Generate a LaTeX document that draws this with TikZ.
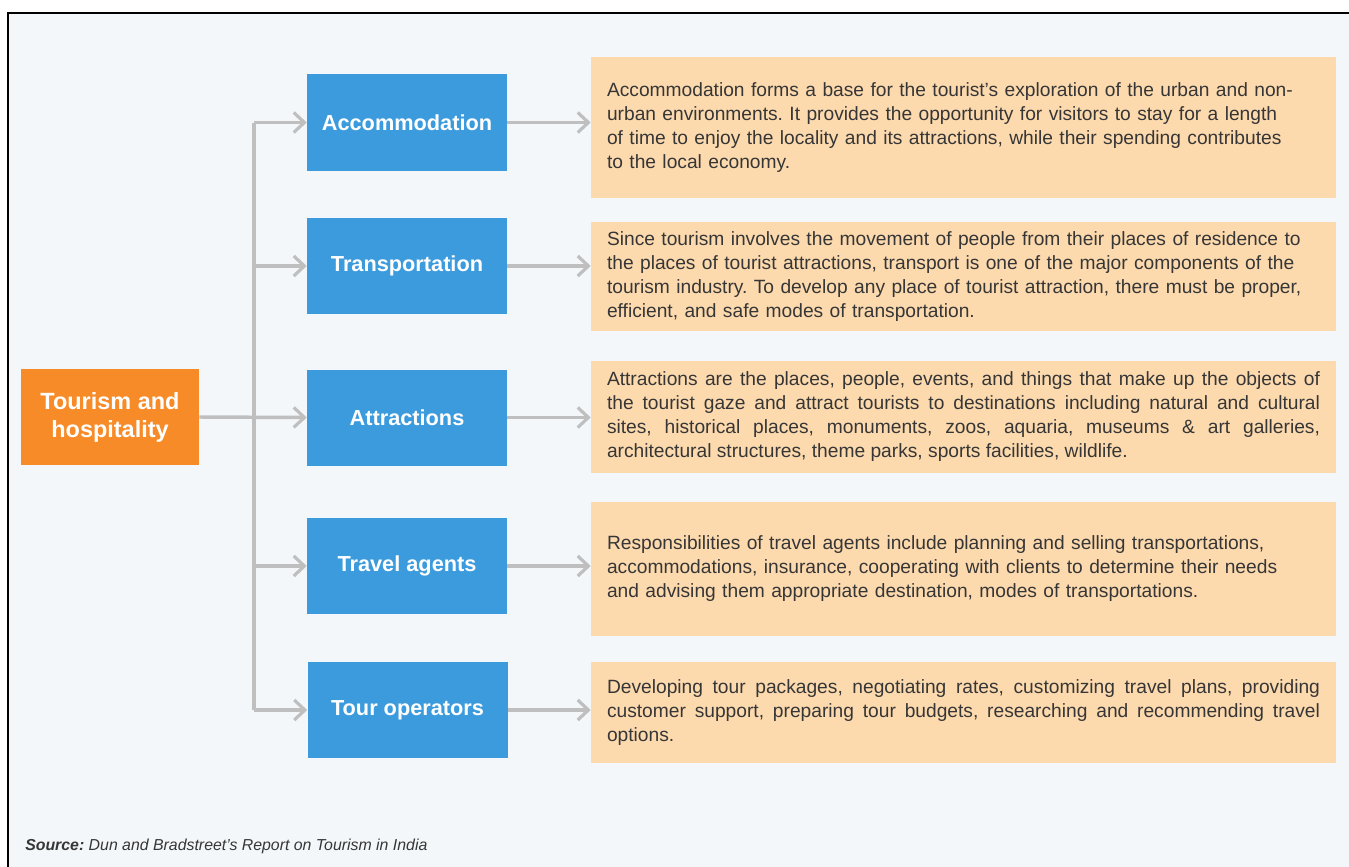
\documentclass[tikz,border=0pt]{standalone}
\usepackage{fontspec}
\setmainfont{Liberation Sans}
\usetikzlibrary{arrows.meta}
\definecolor{bgc}{HTML}{F3F7F9}
\definecolor{bluec}{HTML}{3C9BDD}
\definecolor{orangec}{HTML}{F78B28}
\definecolor{peachc}{HTML}{FDDAAE}
\definecolor{linec}{HTML}{BFBFBF}
\definecolor{txtc}{HTML}{363636}
\frenchspacing
\tikzset{
  bluebox/.style={fill=bluec, text=white, inner sep=0pt, minimum width=150pt, minimum height=72pt,
    font=\fontsize{16.3pt}{19pt}\selectfont\bfseries},
  orangebox/.style={fill=orangec, text=white, inner sep=0pt, minimum width=133.5pt, minimum height=72pt, align=center,
    font=\fontsize{17.6pt}{21pt}\selectfont\bfseries},
  descbox/.style={fill=peachc, text=txtc, inner xsep=12pt, inner ysep=0pt, minimum width=558.75pt,
    text width=534.75pt, font=\fontsize{14.4pt}{18pt}\selectfont},
  conn/.style={draw=linec, line width=2.6pt, -{Straight Barb[length=8pt,width=15pt,line width=2.4pt]}},
  trunk/.style={draw=linec, line width=2.6pt},
}
\begin{document}
\begin{tikzpicture}[x=0.75pt,y=-0.75pt]
\useasboundingbox (0,0) rectangle (1349,867);
\fill[white] (0,0) rectangle (1349,867);
\fill[bgc] (8,13) rectangle (1349,867);
\draw[black, line width=1.6pt] (8,867) -- (8,13) -- (1349,13);

\node[orangebox] (hosp) at (110,417) {Tourism and\\hospitality};

\node[bluebox] (acc) at (407,122.5) {Accommodation};
\node[bluebox] (tra) at (407,266) {Transportation};
\node[bluebox] (att) at (407,417.5) {Attractions};
\node[bluebox] (tag) at (407,566) {Travel agents};
\node[bluebox] (top) at (407.5,710) {Tour operators};

\node[descbox, align=left, minimum height=105.75pt] (d1) at (963.5,127.5) {Accommodation forms a base for the tourist’s exploration of the urban and non-\\urban environments. It provides the opportunity for visitors to stay for a length\\of time to enjoy the locality and its attractions, while their spending contributes\\to the local economy.};
\node[descbox, align=left, minimum height=81.75pt] (d2) at (963.5,276.5) {Since tourism involves the movement of people from their places of residence to\\the places of tourist attractions, transport is one of the major components of the\\tourism industry. To develop any place of tourist attraction, there must be proper,\\efficient, and safe modes of transportation.};
\node[descbox, align=justify, minimum height=84pt] (d3) at (963.5,417) {Attractions are the places, people, events, and things that make up the objects of\linebreak the tourist gaze and attract tourists to destinations including natural and cultural\linebreak sites, historical places, monuments, zoos, aquaria, museums \& art galleries,\linebreak architectural structures, theme parks, sports facilities, wildlife.};
\node[descbox, align=left, minimum height=100.5pt] (d4) at (963.5,569) {Responsibilities of travel agents include planning and selling transportations,\\accommodations, insurance, cooperating with clients to determine their needs\\and advising them appropriate destination, modes of transportations.};
\node[descbox, align=justify, minimum height=75.75pt] (d5) at (963.5,712.5) {Developing tour packages, negotiating rates, customizing travel plans, providing\linebreak customer support, preparing tour budgets, researching and recommending travel\linebreak options.};

\coordinate (tk) at (254,417);
\draw[trunk] (tk |- acc.west) -- (tk |- top.west);
\draw[conn] (hosp.east) -- (att.west);
\draw[conn] (tk |- acc.west) -- (acc.west);
\draw[conn] (tk |- tra.west) -- (tra.west);
\draw[conn] (tk |- tag.west) -- (tag.west);
\draw[conn] (tk |- top.west) -- (top.west);

\draw[conn] (acc.east) -- (acc.east -| d1.west);
\draw[conn] (tra.east) -- (tra.east -| d2.west);
\draw[conn] (att.east) -- (att.east -| d3.west);
\draw[conn] (tag.east) -- (tag.east -| d4.west);
\draw[conn] (top.east) -- (top.east -| d5.west);

\node[anchor=base west, inner sep=0pt, text=txtc, font=\fontsize{11.9pt}{13pt}\selectfont\itshape] (src) at (25,850) {\textbf{Source:} Dun and Bradstreet’s Report on Tourism in India};
\end{tikzpicture}
\end{document}
